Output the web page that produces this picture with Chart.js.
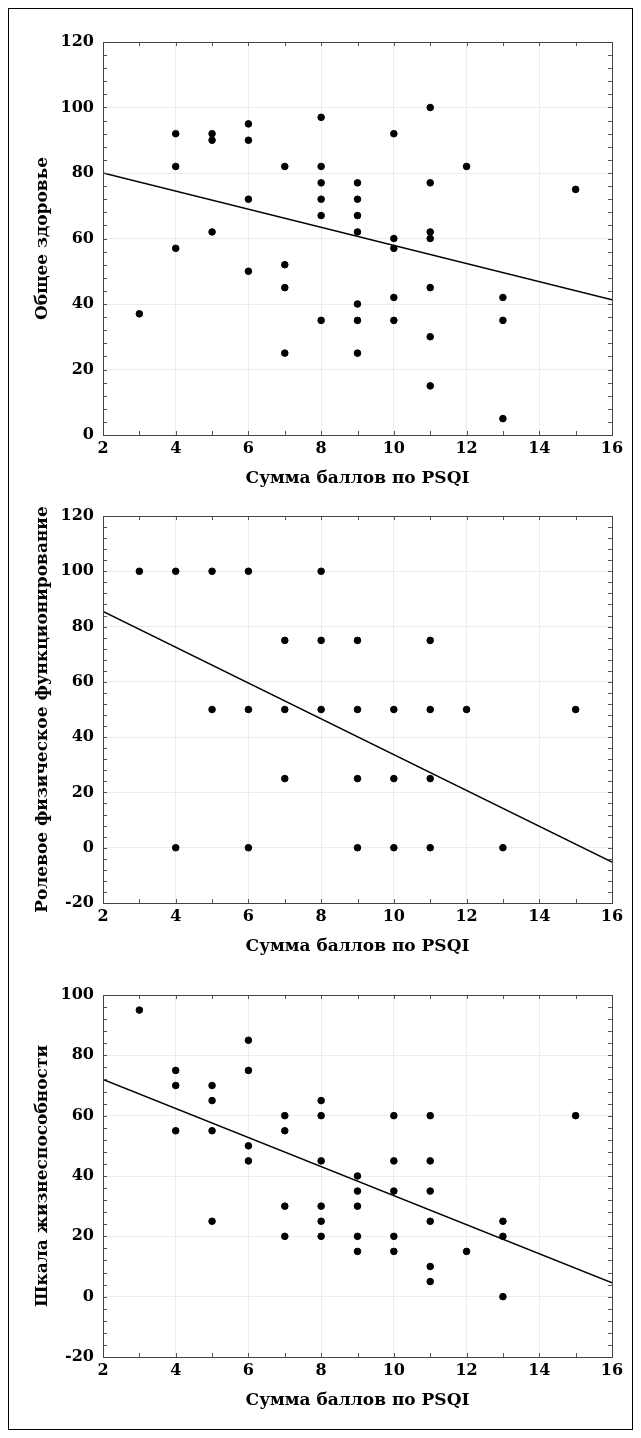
<!DOCTYPE html>
<html>
<head>
<meta charset="utf-8">
<script src="https://cdn.jsdelivr.net/npm/chart.js@4/dist/chart.umd.min.js"></script>
<style>
  body { margin: 0; background: #fff; }
  #wrap { position: relative; width: 641px; height: 1438px; }
  #frame { position: absolute; left: 8px; top: 8px; width: 623px; height: 1420px; border: 1px solid #000; }
  canvas { position: absolute; left: 0; }
</style>
</head>
<body>
<div id="wrap">
  <div id="frame"></div>
  <canvas id="c1" style="top:0px"></canvas>
  <canvas id="c2" style="top:495px"></canvas>
  <canvas id="c3" style="top:963px"></canvas>
</div>
<script>
// PSQI sum (x) and the three SF-36 scales (y), one point per patient
const psqi1 = [3, 4, 4, 4, 5, 5, 5, 6, 6, 6, 6, 7, 7, 7, 7, 8, 8, 8, 8, 8, 8,
  9, 9, 9, 9, 9, 9, 9, 10, 10, 10, 10, 10, 11, 11, 11, 11, 11, 11, 11, 12, 13, 13, 13, 15];
const generalHealth = [37, 92, 82, 57, 92, 90, 62, 95, 90, 72, 50, 82, 52, 45, 25, 97, 82, 77, 72, 67, 35,
  77, 72, 67, 62, 40, 35, 25, 92, 60, 57, 42, 35, 100, 77, 62, 60, 45, 30, 15, 82, 42, 35, 5, 75];

const psqi2 = [3, 4, 5, 6, 8, 7, 8, 9, 11, 5, 6, 7, 8, 9, 10, 11, 12, 15, 7, 9, 10, 11, 4, 6, 9, 10, 11, 13];
const rolePhysical = [100, 100, 100, 100, 100, 75, 75, 75, 75, 50, 50, 50, 50, 50, 50, 50, 50, 50,
  25, 25, 25, 25, 0, 0, 0, 0, 0, 0];

const psqi3 = [3, 4, 4, 4, 5, 5, 5, 5, 6, 6, 6, 6, 7, 7, 7, 7, 8, 8, 8, 8, 8, 8,
  9, 9, 9, 9, 9, 10, 10, 10, 10, 10, 11, 11, 11, 11, 11, 11, 12, 13, 13, 13, 15];
const vitality = [95, 75, 70, 55, 70, 65, 55, 25, 85, 75, 50, 45, 60, 55, 30, 20, 65, 60, 45, 30, 25, 20,
  40, 35, 30, 20, 15, 60, 45, 35, 20, 15, 60, 45, 35, 25, 10, 5, 15, 25, 20, 0, 60];

// regression lines (end points)
const trendX = [2, 16];
const trend1Y = [80, 41.3];
const trend2Y = [85.5, -5.2];
const trend3Y = [72, 4.6];

const xTitle = 'Сумма баллов по PSQI';
const fontFamily = '"DejaVu Serif", "Liberation Serif", serif';

// box around the plot plus small inward ticks on all four sides
const frameTicks = {
  id: 'frameTicks',
  afterDraw(chart, args, opts) {
    const { ctx, chartArea: a, scales: { x, y } } = chart;
    ctx.save();
    ctx.strokeStyle = '#555';
    ctx.lineWidth = 1;
    ctx.beginPath();
    for (let v = x.min; v <= x.max + 1e-9; v += opts.xStep) {
      const px = Math.round(x.getPixelForValue(v)) + 0.5;
      ctx.moveTo(px, a.top); ctx.lineTo(px, a.top + 4);
      ctx.moveTo(px, a.bottom); ctx.lineTo(px, a.bottom - 4);
    }
    for (let v = y.min; v <= y.max + 1e-9; v += opts.yStep) {
      const py = Math.round(y.getPixelForValue(v)) + 0.5;
      ctx.moveTo(a.left, py); ctx.lineTo(a.left + 4, py);
      ctx.moveTo(a.right, py); ctx.lineTo(a.right - 4, py);
    }
    ctx.stroke();
    ctx.strokeStyle = '#444';
    ctx.strokeRect(Math.round(a.left) + 0.5, Math.round(a.top) + 0.5,
      Math.round(a.right - a.left), Math.round(a.bottom - a.top));
    ctx.restore();
  }
};

function makeChart(id, height, padTop, padBottom, xs, ys, lineY, yMin, yMax, yTitle) {
  const el = document.getElementById(id);
  el.width = 641;
  el.height = height;
  el.style.width = '641px';
  el.style.height = height + 'px';
  return new Chart(el, {
    type: 'scatter',
    data: {
      datasets: [{
        data: xs.map((v, i) => ({ x: v, y: ys[i] })),
        backgroundColor: '#000',
        borderColor: '#000',
        pointRadius: 3.3,
        pointHoverRadius: 3.3,
        order: 2
      }, {
        type: 'line',
        data: trendX.map((v, i) => ({ x: v, y: lineY[i] })),
        borderColor: '#000',
        borderWidth: 1.4,
        pointRadius: 0,
        fill: false,
        order: 1
      }]
    },
    options: {
      responsive: false,
      animation: false,
      layout: { padding: { left: 0, right: 29, top: padTop, bottom: padBottom } },
      plugins: {
        legend: { display: false },
        tooltip: { enabled: false },
        frameTicks: { xStep: 1, yStep: 4 }
      },
      scales: {
        x: {
          type: 'linear',
          min: 2, max: 16,
          afterFit: s => { s.height = 60; },
          border: { display: false },
          grid: { color: '#ececec', drawTicks: false },
          ticks: {
            stepSize: 2, autoSkip: false, padding: 4, color: '#000',
            font: { family: fontFamily, size: 16, weight: 'bold' }
          },
          title: {
            display: true, text: xTitle, color: '#000',
            padding: { top: 0, bottom: 6 },
            font: { family: fontFamily, size: 17, weight: 'bold' }
          }
        },
        y: {
          min: yMin, max: yMax,
          afterFit: s => { s.width = 103; },
          border: { display: false },
          grid: { color: '#ececec', drawTicks: false },
          ticks: {
            stepSize: 20, autoSkip: false, padding: 9, color: '#000',
            font: { family: fontFamily, size: 16, weight: 'bold' }
          },
          title: {
            display: true, text: yTitle, color: '#000',
            padding: { top: 32, bottom: 0 },
            font: { family: fontFamily, size: 17, weight: 'bold' }
          }
        }
      }
    },
    plugins: [frameTicks]
  });
}

makeChart('c1', 495, 42, 0, psqi1, generalHealth, trend1Y, 0, 120, 'Общее здоровье');
makeChart('c2', 468, 21, 0, psqi2, rolePhysical, trend2Y, -20, 120, 'Ролевое физическое функционирование');
makeChart('c3', 475, 32, 21, psqi3, vitality, trend3Y, -20, 100, 'Шкала жизнеспособности');
</script>
</body>
</html>
